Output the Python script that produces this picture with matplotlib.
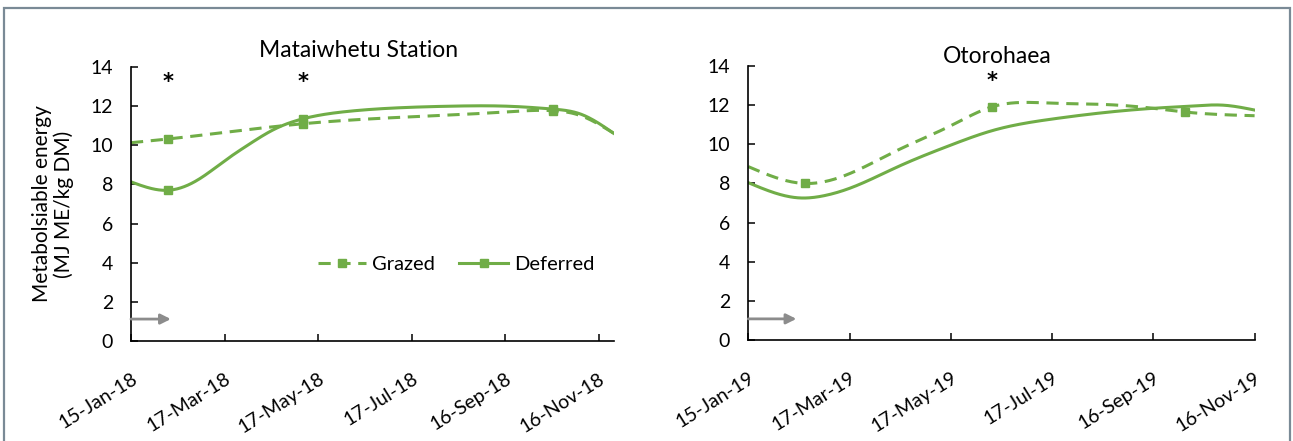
import numpy as np
import matplotlib
matplotlib.use('Agg')
import matplotlib.pyplot as plt
import matplotlib.dates as mdates
from matplotlib.lines import Line2D
from matplotlib.patches import Rectangle

plt.rcParams['font.family'] = ['Lato', 'DejaVu Sans']

GREEN = '#70AD47'
ARROW_GREY = '#8C8C8C'

# ---- Mataiwhetu Station (2018) ----
mat_xlim = ['2018-01-15', '2018-11-26']
mat_ticks = ['2018-01-15', '2018-03-17', '2018-05-17', '2018-07-17', '2018-09-16', '2018-11-16']

mat_grazed_dates = ['2018-01-15', '2018-02-08', '2018-05-07', '2018-07-10', '2018-09-16',
                    '2018-10-17', '2018-11-04', '2018-11-26']
mat_grazed_vals = [10.13, 10.32, 11.1, 11.43, 11.7, 11.77, 11.52, 10.6]

mat_deferred_dates = ['2018-01-15', '2018-02-08', '2018-03-01', '2018-03-17', '2018-04-03',
                      '2018-04-18', '2018-05-07', '2018-06-04', '2018-07-10', '2018-08-13',
                      '2018-09-16', '2018-10-17', '2018-11-04', '2018-11-26']
mat_deferred_vals = [8.13, 7.7, 8.3, 9.2, 10.1, 10.8, 11.35, 11.72, 11.92, 12.0,
                     12.0, 11.85, 11.6, 10.6]

mat_grazed_mark_dates = ['2018-02-08', '2018-05-07', '2018-10-17']
mat_grazed_mark_vals = [10.32, 11.1, 11.77]
mat_deferred_mark_dates = ['2018-02-08', '2018-05-07', '2018-10-17']
mat_deferred_mark_vals = [7.7, 11.35, 11.85]

mat_star_dates = ['2018-02-08', '2018-05-07']
mat_arrow = (['2018-01-15', '2018-02-10'], 1.12)

# ---- Otorohaea (2019) ----
oto_xlim = ['2019-01-15', '2019-11-16']
oto_ticks = ['2019-01-15', '2019-03-17', '2019-05-17', '2019-07-17', '2019-09-16', '2019-11-16']

oto_grazed_dates = ['2019-01-15', '2019-02-18', '2019-03-17', '2019-04-15', '2019-05-17',
                    '2019-06-11', '2019-07-17', '2019-08-13', '2019-09-16', '2019-10-05',
                    '2019-11-16']
oto_grazed_vals = [8.86, 8.0, 8.5, 9.7, 10.95, 11.92, 12.1, 12.05, 11.84, 11.65, 11.46]

oto_deferred_dates = ['2019-01-15', '2019-02-15', '2019-03-02', '2019-03-17', '2019-04-15',
                      '2019-05-17', '2019-06-11', '2019-07-17', '2019-08-13', '2019-09-16',
                      '2019-10-10', '2019-10-28', '2019-11-16']
oto_deferred_vals = [8.04, 7.26, 7.38, 7.75, 8.85, 9.96, 10.7, 11.29, 11.58, 11.84,
                     11.96, 12.0, 11.75]

oto_grazed_mark_dates = ['2019-02-18', '2019-06-11', '2019-10-05']
oto_grazed_mark_vals = [8.0, 11.92, 11.65]

oto_star_dates = ['2019-06-11']
oto_arrow = (['2019-01-15', '2019-02-13'], 1.08)


def to_num(dates):
    return mdates.date2num(np.array(dates, dtype='datetime64[D]'))


def smooth(dates, values, n=400):
    # natural cubic spline through the read points
    x = to_num(dates)
    y = np.asarray(values, dtype=float)
    k = len(x)
    h = np.diff(x)
    A = np.zeros((k, k))
    r = np.zeros(k)
    A[0, 0] = A[-1, -1] = 1
    for i in range(1, k - 1):
        A[i, i - 1] = h[i - 1]
        A[i, i] = 2 * (h[i - 1] + h[i])
        A[i, i + 1] = h[i]
        r[i] = 6 * ((y[i + 1] - y[i]) / h[i] - (y[i] - y[i - 1]) / h[i - 1])
    M = np.linalg.solve(A, r)
    xs = np.linspace(x[0], x[-1], n)
    idx = np.clip(np.searchsorted(x, xs) - 1, 0, k - 2)
    a = x[idx + 1] - xs
    b = xs - x[idx]
    hh = h[idx]
    ys = (M[idx] * a ** 3 / (6 * hh) + M[idx + 1] * b ** 3 / (6 * hh)
          + (y[idx] / hh - M[idx] * hh / 6) * a + (y[idx + 1] / hh - M[idx + 1] * hh / 6) * b)
    return xs, ys


def style_axes(ax, xlim, ticks):
    ax.set_xlim(to_num(xlim))
    ax.set_ylim(0, 14)
    ax.set_yticks(range(0, 15, 2))
    ax.set_xticks(to_num(ticks))
    ax.xaxis.set_major_formatter(mdates.DateFormatter('%d-%b-%y'))
    for s in ['top', 'right']:
        ax.spines[s].set_visible(False)
    for s in ['left', 'bottom']:
        ax.spines[s].set_linewidth(1.2)
        ax.spines[s].set_color('black')
    ax.tick_params(axis='both', direction='in', length=5, width=1.1, labelsize=14)
    ax.tick_params(axis='y', pad=13)
    ax.tick_params(axis='x', pad=21)
    for lab in ax.get_xticklabels():
        lab.set_rotation(32)
        lab.set_ha('right')
        lab.set_va('top')
        lab.set_rotation_mode('anchor')


def draw_panel(ax, grazed, deferred, marks, stars, arrow):
    gx, gy = smooth(*grazed)
    dx, dy = smooth(*deferred)
    ax.plot(dx, dy, '-', color=GREEN, lw=2.2)
    ax.plot(gx, gy, '--', color=GREEN, lw=2.2, dashes=(4, 2.5))
    for md, mv in marks:
        ax.plot(to_num(md), mv, 's', color=GREEN, ms=6, ls='none')
    for sd in stars:
        ax.text(to_num([sd])[0], 13.25, '*', ha='center', va='center',
                fontsize=15, fontweight='bold', family='DejaVu Sans')
    (a0, a1), ay = arrow
    ax.annotate('', xy=(to_num([a1])[0], ay), xytext=(to_num([a0])[0], ay),
                arrowprops=dict(arrowstyle='-|>', color=ARROW_GREY, lw=2,
                                mutation_scale=15, shrinkA=0, shrinkB=0))


fig = plt.figure(figsize=(12.93, 4.41), dpi=100)
ax1 = fig.add_axes([0.1013, 0.2268, 0.3736, 0.6213])
ax2 = fig.add_axes([0.5787, 0.2290, 0.3916, 0.6213])

draw_panel(ax1, (mat_grazed_dates, mat_grazed_vals), (mat_deferred_dates, mat_deferred_vals),
           [(mat_grazed_mark_dates, mat_grazed_mark_vals),
            (mat_deferred_mark_dates, mat_deferred_mark_vals)],
           mat_star_dates, mat_arrow)
draw_panel(ax2, (oto_grazed_dates, oto_grazed_vals), (oto_deferred_dates, oto_deferred_vals),
           [(oto_grazed_mark_dates, oto_grazed_mark_vals)],
           oto_star_dates, oto_arrow)

style_axes(ax1, mat_xlim, mat_ticks)
style_axes(ax2, oto_xlim, oto_ticks)

ax1.text(0.471, 1.062, 'Mataiwhetu Station', transform=ax1.transAxes,
         ha='center', va='center', fontsize=16.5)
ax2.text(0.491, 1.034, 'Otorohaea', transform=ax2.transAxes,
         ha='center', va='center', fontsize=16.5)

ax1.set_ylabel('Metabolsiable energy\n(MJ ME/kg DM)', fontsize=15, linespacing=1.1)
ax1.yaxis.set_label_coords(-0.118, 0.5)

handles = [
    Line2D([], [], color=GREEN, lw=2.2, ls='--', dashes=(4, 2.5), marker='s', ms=6),
    Line2D([], [], color=GREEN, lw=2.2, ls='-', marker='s', ms=6),
]
ax1.legend(handles, ['Grazed', 'Deferred'], loc='center', bbox_to_anchor=(0.673, 0.28),
           ncol=2, frameon=False, fontsize=14.5, handlelength=2.4, handletextpad=0.3,
           columnspacing=1.2, numpoints=1)

fig.add_artist(Rectangle((4 / 1293, -0.05), (1290 - 4) / 1293, 1.05 - 8 / 441,
                         transform=fig.transFigure, fill=False,
                         edgecolor='#7A8A96', lw=1.6, clip_on=False))

fig.savefig('out.png', dpi=100)
